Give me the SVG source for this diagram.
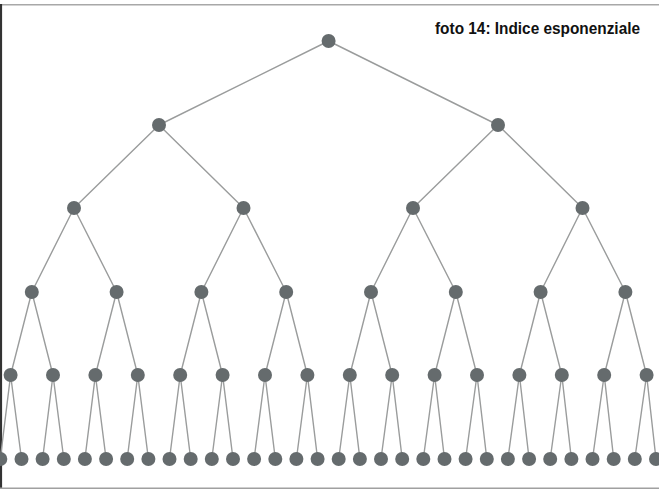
<svg xmlns="http://www.w3.org/2000/svg" width="659" height="490" viewBox="0 0 659 490">
<style>
.e{stroke:#9a9c9c;stroke-width:1.4;fill:none}
.n{fill:#656b6d}
.t{font-family:"Liberation Sans",Arial,sans-serif;font-weight:bold;font-size:16px;fill:#111}
</style>
<rect width="659" height="490" fill="#fff"/>
<g id="frame">
<line x1="0" y1="4.8" x2="659" y2="4.8" stroke="#a8a8a8" stroke-width="1.6"/>
<line x1="1" y1="4" x2="1" y2="489" stroke="#333" stroke-width="2.2"/>
<line x1="0" y1="488.3" x2="659" y2="488.3" stroke="#a0a0a0" stroke-width="1.6"/>
</g>
<g id="connectors" class="e">
<path d="M328.6,41L159,125M328.6,41L498,125"/>
<path d="M159,125L74,208M159,125L243.5,208M498,125L413,208M498,125L582.5,208"/>
<path d="M74,208L31.8,292M74,208L116.6,292M243.5,208L201.4,292M243.5,208L286.2,292M413,208L371,292M413,208L455.8,292M582.5,208L540.6,292M582.5,208L625.4,292"/>
<path d="M31.8,292L10.6,375M31.8,292L53,375M116.6,292L95.4,375M116.6,292L137.8,375M201.4,292L180.2,375M201.4,292L222.6,375M286.2,292L265,375M286.2,292L307.4,375M371,292L349.8,375M371,292L392.2,375M455.8,292L434.6,375M455.8,292L477,375M540.6,292L519.4,375M540.6,292L561.8,375M625.4,292L604.2,375M625.4,292L646.6,375"/>
<path d="M10.6,375L0.3,459M10.6,375L21.5,459M53,375L42.6,459M53,375L63.8,459M95.4,375L84.9,459M95.4,375L106.1,459M137.8,375L127.2,459M137.8,375L148.4,459M180.2,375L169.5,459M180.2,375L190.7,459M222.6,375L211.8,459M222.6,375L233,459M265,375L254.1,459M265,375L275.3,459M307.4,375L296.4,459M307.4,375L317.6,459M349.8,375L338.7,459M349.8,375L359.9,459M392.2,375L381,459M392.2,375L402.2,459M434.6,375L423.3,459M434.6,375L444.5,459M477,375L465.6,459M477,375L486.8,459M519.4,375L507.9,459M519.4,375L529.1,459M561.8,375L550.2,459M561.8,375L571.4,459M604.2,375L592.5,459M604.2,375L613.7,459M646.6,375L634.8,459M646.6,375L656,459"/>
</g>
<g id="root" class="n"><circle cx="328.6" cy="41" r="7"/></g>
<g id="level1" class="n"><circle cx="159" cy="125" r="7"/><circle cx="498" cy="125" r="7"/></g>
<g id="level2" class="n"><circle cx="74" cy="208" r="7"/><circle cx="243.5" cy="208" r="7"/><circle cx="413" cy="208" r="7"/><circle cx="582.5" cy="208" r="7"/></g>
<g id="level3" class="n"><circle cx="31.8" cy="292" r="7"/><circle cx="116.6" cy="292" r="7"/><circle cx="201.4" cy="292" r="7"/><circle cx="286.2" cy="292" r="7"/><circle cx="371" cy="292" r="7"/><circle cx="455.8" cy="292" r="7"/><circle cx="540.6" cy="292" r="7"/><circle cx="625.4" cy="292" r="7"/></g>
<g id="level4" class="n"><circle cx="10.6" cy="375" r="7"/><circle cx="53" cy="375" r="7"/><circle cx="95.4" cy="375" r="7"/><circle cx="137.8" cy="375" r="7"/><circle cx="180.2" cy="375" r="7"/><circle cx="222.6" cy="375" r="7"/><circle cx="265" cy="375" r="7"/><circle cx="307.4" cy="375" r="7"/><circle cx="349.8" cy="375" r="7"/><circle cx="392.2" cy="375" r="7"/><circle cx="434.6" cy="375" r="7"/><circle cx="477" cy="375" r="7"/><circle cx="519.4" cy="375" r="7"/><circle cx="561.8" cy="375" r="7"/><circle cx="604.2" cy="375" r="7"/><circle cx="646.6" cy="375" r="7"/></g>
<g id="level5" class="n"><circle cx="0.3" cy="459" r="7"/><circle cx="21.5" cy="459" r="7"/><circle cx="42.6" cy="459" r="7"/><circle cx="63.8" cy="459" r="7"/><circle cx="84.9" cy="459" r="7"/><circle cx="106.1" cy="459" r="7"/><circle cx="127.2" cy="459" r="7"/><circle cx="148.4" cy="459" r="7"/><circle cx="169.5" cy="459" r="7"/><circle cx="190.7" cy="459" r="7"/><circle cx="211.8" cy="459" r="7"/><circle cx="233" cy="459" r="7"/><circle cx="254.1" cy="459" r="7"/><circle cx="275.3" cy="459" r="7"/><circle cx="296.4" cy="459" r="7"/><circle cx="317.6" cy="459" r="7"/><circle cx="338.7" cy="459" r="7"/><circle cx="359.9" cy="459" r="7"/><circle cx="381" cy="459" r="7"/><circle cx="402.2" cy="459" r="7"/><circle cx="423.3" cy="459" r="7"/><circle cx="444.5" cy="459" r="7"/><circle cx="465.6" cy="459" r="7"/><circle cx="486.8" cy="459" r="7"/><circle cx="507.9" cy="459" r="7"/><circle cx="529.1" cy="459" r="7"/><circle cx="550.2" cy="459" r="7"/><circle cx="571.4" cy="459" r="7"/><circle cx="592.5" cy="459" r="7"/><circle cx="613.7" cy="459" r="7"/><circle cx="634.8" cy="459" r="7"/><circle cx="656" cy="459" r="7"/></g>
<g id="title"><text class="t" x="640" y="34" text-anchor="end" textLength="205" lengthAdjust="spacingAndGlyphs">foto 14: Indice esponenziale</text></g>
</svg>
